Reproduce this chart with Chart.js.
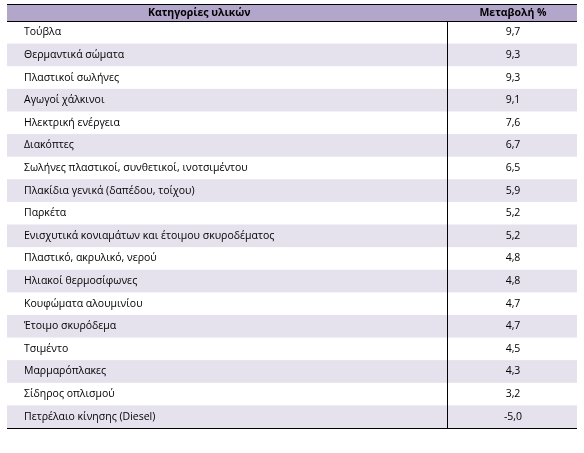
<!DOCTYPE html>
<html><head><meta charset="utf-8">
<script src="https://cdn.jsdelivr.net/npm/chart.js@4"></script>
<style>html,body{margin:0;padding:0;background:#fff}#w{width:584px;height:453px}</style>
</head><body><div id="w"><canvas id="c"></canvas></div>
<script>
const categories = ["Τούβλα","Θερμαντικά σώματα","Πλαστικοί σωλήνες","Αγωγοί χάλκινοι","Ηλεκτρική ενέργεια","Διακόπτες","Σωλήνες πλαστικοί, συνθετικοί, ινοτσιμέντου","Πλακίδια γενικά (δαπέδου, τοίχου)","Παρκέτα","Ενισχυτικά κονιαμάτων και έτοιμου σκυροδέματος","Πλαστικό, ακρυλικό, νερού","Ηλιακοί θερμοσίφωνες","Κουφώματα αλουμινίου","Έτοιμο σκυρόδεμα","Τσιμέντο","Μαρμαρόπλακες","Σίδηρος οπλισμού","Πετρέλαιο κίνησης (Diesel)"];
const values = [9.7,9.3,9.3,9.1,7.6,6.7,6.5,5.9,5.2,5.2,4.8,4.8,4.7,4.7,4.5,4.3,3.2,-5.0];
const headers = ["Κατηγορίες υλικών","Μεταβολή %"];
const FONT = '"Open Sans", "Liberation Sans", sans-serif';
const tablePlugin = {
  id:'table',
  beforeDatasetsDraw(chart){
    const ctx=chart.ctx, a=chart.chartArea, y=chart.scales.y;
    const divX=447.5, valX=513, labX=24;
    ctx.save();
    const rowH=(a.bottom-a.top)/categories.length;
    categories.forEach((c,i)=>{
      const cy=y.getPixelForValue(i);
      if(i%2===1){ctx.fillStyle='#e5e1ed';ctx.fillRect(a.left,cy-rowH/2,a.right-a.left,rowH);}
    });
    ctx.fillStyle='#b3a6cb';ctx.fillRect(a.left,4,a.right-a.left,a.top-4);
    ctx.strokeStyle='#000';ctx.lineWidth=1;
    const hl=(yy)=>{ctx.beginPath();ctx.moveTo(a.left,yy);ctx.lineTo(a.right,yy);ctx.stroke();};
    hl(4.5);hl(Math.round(a.top)+0.5);hl(Math.round(a.bottom)+0.5);
    ctx.beginPath();ctx.moveTo(divX,a.top);ctx.lineTo(divX,a.bottom);ctx.stroke();
    ctx.fillStyle='#000';ctx.textBaseline='middle';
    ctx.font='bold 10.5px '+FONT;ctx.textAlign='center';
    ctx.fillText(headers[0],(a.left+divX)/2-28,(4+a.top)/2+1);
    ctx.fillText(headers[1],valX,(4+a.top)/2+1);
    ctx.font='10.5px '+FONT;
    categories.forEach((c,i)=>{
      const cy=y.getPixelForValue(i);
      ctx.textAlign='left';ctx.fillText(c,labX,cy);
      ctx.textAlign='center';ctx.fillText(values[i].toFixed(1).replace('.',','),valX,cy);
    });
    ctx.restore();
  }
};
new Chart(document.getElementById('c'),{
  type:'bar',
  data:{labels:categories,datasets:[{data:values,backgroundColor:'rgba(0,0,0,0)',borderWidth:0}]},
  options:{indexAxis:'y',responsive:true,maintainAspectRatio:false,animation:false,
    layout:{padding:{top:21,bottom:25,left:7,right:7}},
    plugins:{legend:{display:false},tooltip:{enabled:false}},
    scales:{x:{display:false,min:-10,max:10},y:{display:false}}},
  plugins:[tablePlugin]
});
</script></body></html>
